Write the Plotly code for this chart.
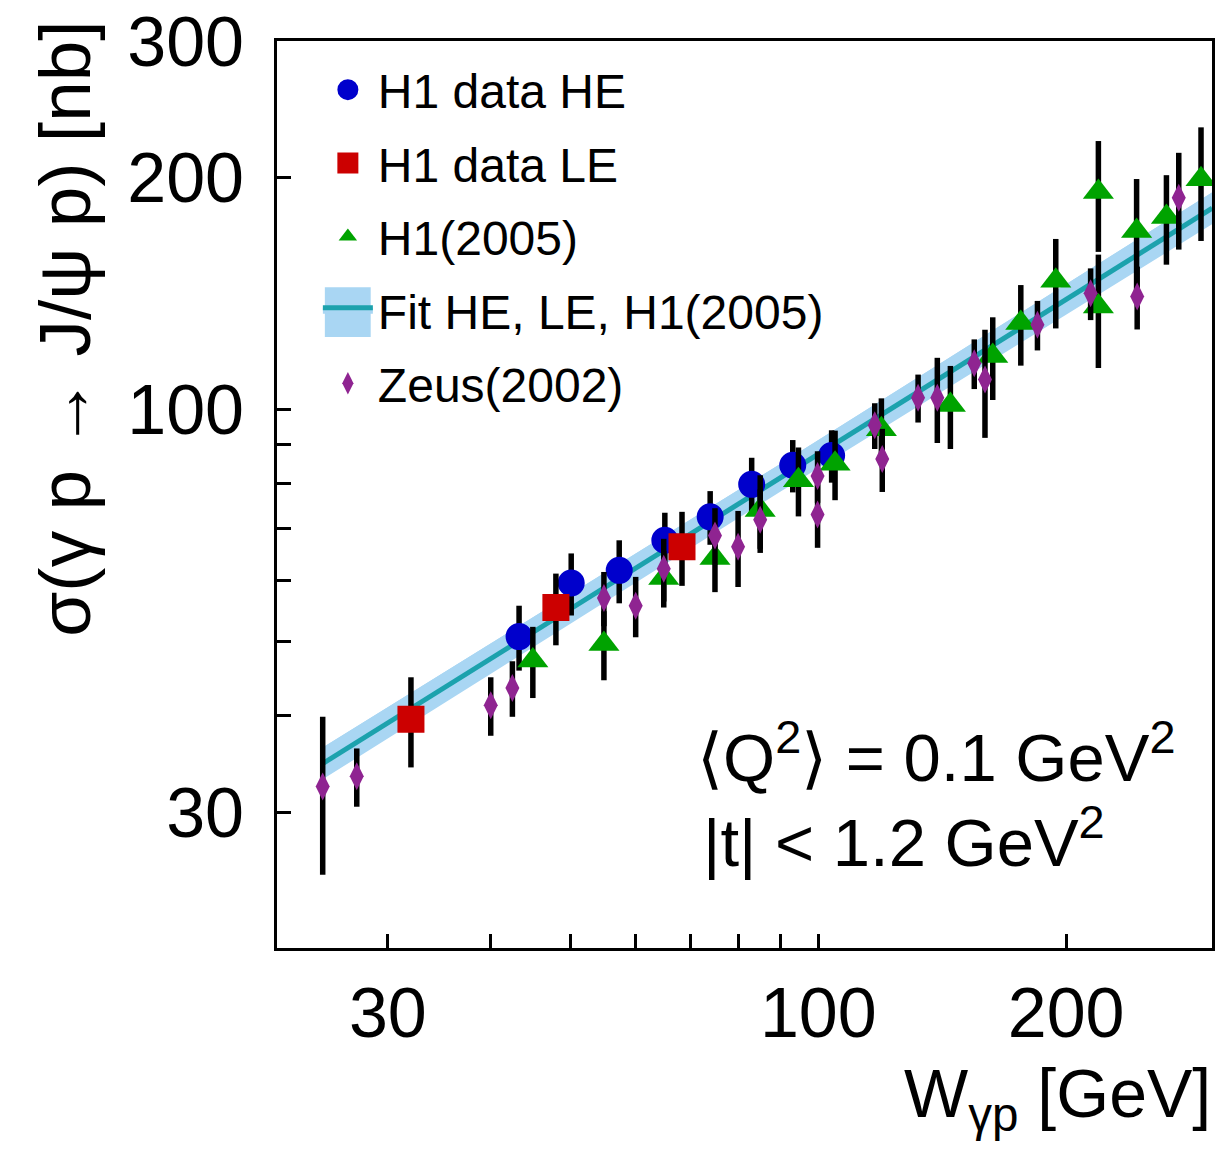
import numpy as np
import plotly.graph_objects as go

# ---------------- data ----------------
# H1 data HE
he_w = [43.3, 50.1, 57.3, 65.1, 73.9, 83.0, 93.1, 103.8]
he_sigma = [50.7, 59.5, 61.8, 67.6, 72.5, 79.9, 84.6, 87.1]
he_err = [4.9, 5.5, 5.8, 5.8, 5.8, 6.6, 6.6, 6.8]

# H1 data LE
le_w = [32.0, 48.0, 68.3]
le_sigma = [39.6, 55.3, 66.3]
le_err = [5.3, 5.9, 7.3]

# H1 (2005)
h05_w = [45.0, 54.9, 64.9, 74.9, 85.0, 94.6, 104.8, 119.3, 144.7, 162.9,
         176.2, 194.3, 218.9, 218.9, 243.6, 264.8, 291.7]
h05_sigma = [47.2, 49.6, 60.4, 64.1, 74.0, 80.9, 85.0, 94.2, 101.3, 117.2,
             129.4, 146.8, 191.4, 135.9, 170.3, 177.6, 198.7]
h05_err = [5.0, 5.1, 5.1, 6.2, 8.1, 8.3, 8.8, 9.1, 12.5, 14.4,
           15.5, 19.5, 31.4, 22.8, 28.6, 23.6, 33.4]

# Zeus (2002)
zeus_w = [25.0, 27.5, 40.0, 42.5, 54.9, 60.0, 64.9, 74.9, 79.9, 85.0, 99.8,
          99.8, 117.1, 119.6, 132.2, 139.5, 154.7, 159.4, 184.6, 214.2, 244.0, 274.1]
zeus_sigma = [32.4, 33.4, 41.3, 43.5, 56.9, 55.6, 62.1, 68.6, 66.3, 71.9, 81.9,
              73.0, 95.3, 86.2, 103.5, 103.5, 114.7, 109.3, 128.7, 141.4, 140.0, 188.1]
zeus_err = [7.5, 2.9, 3.6, 3.6, 4.6, 5.0, 5.8, 5.8, 7.5, 6.8, 6.3,
            6.9, 6.5, 8.1, 7.4, 13.1, 8.5, 17.5, 9.5, 10.9, 13.1, 27.0]

# Fit HE, LE, H1(2005): central curve and error band
fit_w = [25.0, 90.0, 301.0]
fit_sigma = [34.7, 81.5, 182.3]
fit_lo = [33.1, 78.2, 173.8]
fit_hi = [36.4, 85.0, 191.2]

# axis ticks
x_tickvals = [30, 40, 50, 60, 70, 80, 90, 100, 200, 300]
x_ticktext = ["30", "", "", "", "", "", "", "100", "200", ""]
y_tickvals = [20, 30, 40, 50, 60, 70, 80, 90, 100, 200, 300]
y_ticktext = ["", "30", "", "", "", "", "", "", "100", "200", "300"]
x_range = [22.0, 300.8]
y_range = [20.0, 300.4]

# ---------------- styling ----------------
W, H = 1218, 1159
ML, MR, MT, MB = 277, 3, 38, 211
PW, PH = W - ML - MR, H - MT - MB
FONT = "Liberation Sans, Arial, Helvetica, sans-serif"

C_BLUE = "#0000cc"
C_RED = "#cc0000"
C_GREEN = "#00a300"
C_PURPLE = "#8f2491"
C_BAND = "#a9d6f3"
C_LINE = "#1ca2ad"


def px2paper_x(px):
    return (px - ML) / PW


def px2paper_y(py):
    return 1 - (py - MT) / PH


def err(vals):
    return dict(type="data", array=vals, visible=True, color="black",
                thickness=5.5, width=0)


fig = go.Figure()

# fit band (lower, upper) and central line
fig.add_trace(go.Scatter(x=fit_w, y=fit_lo, mode="lines", line=dict(width=0, color=C_BAND),
                         showlegend=False, hoverinfo="skip"))
fig.add_trace(go.Scatter(x=fit_w, y=fit_hi, mode="lines", line=dict(width=0, color=C_BAND),
                         fill="tonexty", fillcolor=C_BAND, showlegend=False, hoverinfo="skip"))
fig.add_trace(go.Scatter(x=fit_w, y=fit_sigma, mode="lines", name="Fit HE, LE, H1(2005)",
                         line=dict(width=5, color=C_LINE), fill="tonexty", fillcolor=C_BAND,
                         legendrank=4, legendgroup="fit"))

fig.add_trace(go.Scatter(x=he_w, y=he_sigma, mode="markers", name="H1 data HE",
                         marker=dict(symbol="circle", size=22, color=C_BLUE,
                                     line=dict(width=5, color=C_BLUE)),
                         error_y=err(he_err), legendrank=1, legendgroup="he"))
fig.add_trace(go.Scatter(x=le_w, y=le_sigma, mode="markers", name="H1 data LE",
                         marker=dict(symbol="square", size=22, color=C_RED,
                                     line=dict(width=5, color=C_RED)),
                         error_y=err(le_err), legendrank=2, legendgroup="le"))
fig.add_trace(go.Scatter(x=h05_w, y=h05_sigma, mode="markers", name="H1(2005)",
                         marker=dict(symbol="triangle-up", size=27, color=C_GREEN),
                         error_y=err(h05_err), legendrank=3, legendgroup="h05"))
fig.add_trace(go.Scatter(x=zeus_w, y=zeus_sigma, mode="markers", name="Zeus(2002)",
                         marker=dict(symbol="diamond-tall", size=20, color=C_PURPLE),
                         error_y=err(zeus_err), legendrank=5, legendgroup="zeus"))

axis_common = dict(type="log", showgrid=False, zeroline=False, showline=True,
                   linecolor="black", linewidth=3, mirror=True, ticks="inside",
                   ticklen=14, tickwidth=2.5, tickcolor="black",
                   ticklabeloverflow="allow",
                   tickfont=dict(family=FONT, size=70, color="black"))

# legend row 4 (fit) box behind the legend line symbol
fit_box_y = 310

fig.update_layout(
    width=W, height=H,
    margin=dict(l=ML, r=MR, t=MT, b=MB),
    paper_bgcolor="white", plot_bgcolor="white",
    font=dict(family=FONT, color="black"),
    xaxis=dict(range=list(np.log10(x_range)), tickvals=x_tickvals, ticktext=x_ticktext,
               ticklabelstandoff=2, **axis_common),
    yaxis=dict(range=list(np.log10(y_range)), tickvals=y_tickvals, ticktext=y_ticktext,
               ticklabelstandoff=16, **axis_common),
    xaxis2=dict(type="log", range=list(np.log10(x_range)), overlaying="x", anchor="y",
                side="bottom", tickvals=[100], ticks="inside", ticklen=28, tickwidth=2.5,
                tickcolor="black", showticklabels=False, showgrid=False, zeroline=False,
                showline=False),
    yaxis2=dict(type="log", range=list(np.log10(y_range)), overlaying="y", anchor="x",
                side="left", tickvals=[100], ticks="inside", ticklen=28, tickwidth=2.5,
                tickcolor="black", showticklabels=False, showgrid=False, zeroline=False,
                showline=False),
    legend=dict(x=px2paper_x(318), y=px2paper_y(49), xanchor="left", yanchor="top",
                bgcolor="rgba(0,0,0,0)", borderwidth=0, itemwidth=50,
                tracegroupgap=8, font=dict(family=FONT, size=48, color="black"),
                itemsizing="trace"),
    showlegend=True,
    shapes=[dict(type="rect", xref="paper", yref="paper",
                 x0=px2paper_x(325), x1=px2paper_x(371),
                 y0=px2paper_y(fit_box_y + 25), y1=px2paper_y(fit_box_y - 25),
                 fillcolor=C_BAND, line=dict(width=0), layer="below")],
)

annotations = [
    dict(text="σ(γ p → J/ψ p) [nb]", textangle=-90, x=px2paper_x(63), y=px2paper_y(327),
         xanchor="center", yanchor="middle", font=dict(size=73)),
    dict(text="W<sub>γp</sub> [GeV]", x=px2paper_x(1216), y=px2paper_y(1053),
         xanchor="right", yanchor="top", font=dict(size=68)),
    dict(text="⟨Q<sup>2</sup>⟩ = 0.1 GeV<sup>2</sup>", x=px2paper_x(696), y=px2paper_y(752),
         xanchor="left", yanchor="middle", font=dict(size=67)),
    dict(text="|t| &lt; 1.2 GeV<sup>2</sup>", x=px2paper_x(702), y=px2paper_y(838),
         xanchor="left", yanchor="middle", font=dict(size=67)),
]
for a in annotations:
    a.update(xref="paper", yref="paper", showarrow=False)
    a["font"].update(family=FONT, color="black")
fig.update_layout(annotations=annotations)

fig.write_html("out.html")
